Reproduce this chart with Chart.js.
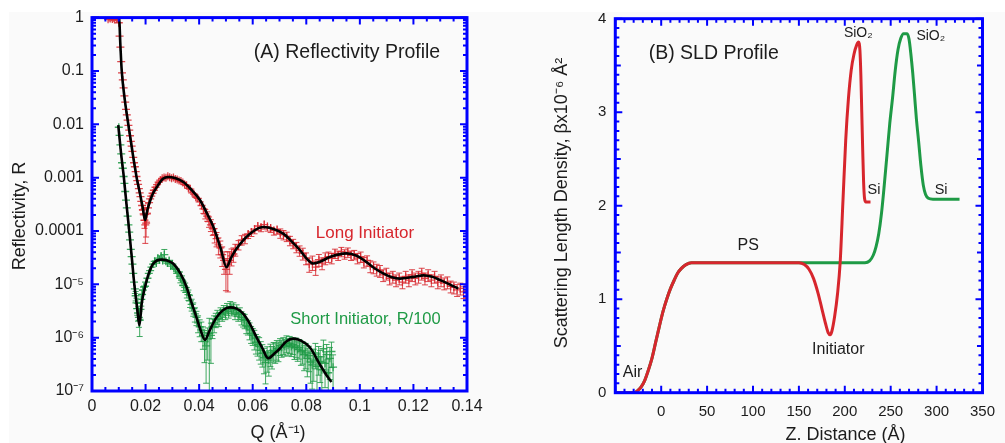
<!DOCTYPE html>
<html>
<head>
<meta charset="utf-8">
<title>Reflectivity and SLD profiles</title>
<script src="https://cdn.jsdelivr.net/npm/chart.js@4.4.0/dist/chart.umd.min.js"></script>
<style>
  html, body { margin: 0; padding: 0; background: #fff; }
  #sheet { position: absolute; left: 9px; top: 12px; width: 996px; height: 431px; background: #fafafa; }
  canvas { position: absolute; top: 0; }
  #reflCanvas { left: 0; }
  #sldCanvas { left: 500px; }
</style>
</head>
<body>
<div id="sheet"></div>
<canvas id="reflCanvas" width="500" height="443"></canvas>
<canvas id="sldCanvas" width="505" height="443"></canvas>
<script>
// ---------- (A) reflectivity: measured points ----------
const redQ = [
  0.0060, 0.0064, 0.0068, 0.0072, 0.0076, 0.0080, 0.0084, 0.0088, 0.0092, 0.0096,
  0.0100, 0.0103, 0.0106, 0.0109, 0.0112, 0.0115, 0.0118, 0.0121, 0.0124, 0.0127,
  0.0130, 0.0133, 0.0136, 0.0139, 0.0142, 0.0145, 0.0148, 0.0151, 0.0154, 0.0157,
  0.0160, 0.0163, 0.0166, 0.0169, 0.0172, 0.0175, 0.0178, 0.0181, 0.0184, 0.0187,
  0.0190, 0.0193, 0.0196, 0.0199, 0.0202, 0.0205, 0.0209, 0.0213, 0.0217, 0.0221,
  0.0226, 0.0231, 0.0237, 0.0243, 0.0249, 0.0255, 0.0262, 0.0269, 0.0276, 0.0283,
  0.0290, 0.0297, 0.0304, 0.0311, 0.0318, 0.0325, 0.0332, 0.0339, 0.0346, 0.0353,
  0.0360, 0.0367, 0.0374, 0.0381, 0.0388, 0.0395, 0.0402, 0.0409, 0.0416, 0.0423,
  0.0430, 0.0437, 0.0444, 0.0451, 0.0458, 0.0465, 0.0472, 0.0479, 0.0486, 0.0493,
  0.0500, 0.0507, 0.0514, 0.0521, 0.0528, 0.0535, 0.0547, 0.0559, 0.0571, 0.0583,
  0.0595, 0.0607, 0.0619, 0.0631, 0.0643, 0.0655, 0.0667, 0.0679, 0.0691, 0.0703,
  0.0715, 0.0727, 0.0739, 0.0751, 0.0763, 0.0775, 0.0787, 0.0799, 0.0811, 0.0823,
  0.0835, 0.0847, 0.0859, 0.0871, 0.0883, 0.0895, 0.0907, 0.0919, 0.0931, 0.0943,
  0.0955, 0.0967, 0.0979, 0.0991, 0.1003, 0.1015, 0.1027, 0.1039, 0.1051, 0.1063,
  0.1075, 0.1087, 0.1099, 0.1111, 0.1123, 0.1135, 0.1147, 0.1159, 0.1171, 0.1183,
  0.1195, 0.1207, 0.1219, 0.1231, 0.1243, 0.1255, 0.1267, 0.1279, 0.1291, 0.1303,
  0.1315, 0.1327, 0.1339, 0.1351, 0.1363, 0.1375, 0.1387, 0.1399
];
const redR = [
  0.93, 1.00, 0.96, 1.02, 0.94, 0.99, 0.92, 1.01, 0.95, 0.97,
  0.80, 0.45, 0.28, 0.15, 0.092, 0.068, 0.048, 0.034, 0.026, 0.019,
  0.015, 0.012, 0.0095, 0.0078, 0.0061, 0.0048, 0.0039, 0.0031, 0.0024, 0.0019,
  0.0016, 0.0013, 0.00105, 0.00088, 0.00075, 0.00062, 0.00052, 0.00044, 0.00036, 0.0003,
  0.00025, 0.00021, 0.00016, 0.00013, 0.00014, 0.00021, 0.00027, 0.00034, 0.0004, 0.00045,
  0.00051, 0.00058, 0.00066, 0.00074, 0.00082, 0.0009, 0.00097, 0.00101, 0.00099, 0.00106,
  0.00102, 0.00097, 0.00101, 0.00094, 0.00092, 0.00088, 0.00086, 0.00081, 0.00074, 0.00072,
  0.00063, 0.00061, 0.00052, 0.00049, 0.00043, 0.00041, 0.00035, 0.0003, 0.00026, 0.00021,
  0.00019, 0.00015, 0.00013, 0.00011, 8.5e-5, 7.2e-5, 5.5e-5, 4.8e-5, 3.6e-5, 2.8e-5,
  1.9e-5, 2.4e-5, 2.8e-5, 3.4e-5, 3.7e-5, 4.5e-5, 5.5e-5, 6.8e-5, 7.2e-5, 8.8e-5,
  9.6e-5, 1.08e-4, 1.24e-4, 1.18e-4, 1.32e-4, 1.21e-4, 1.14e-4, 1.02e-4, 1.06e-4, 9.1e-5,
  8.5e-5, 7.9e-5, 6.6e-5, 5.8e-5, 5.0e-5, 4.3e-5, 3.8e-5, 3.1e-5, 2.4e-5, 2.6e-5,
  2.1e-5, 2.9e-5, 2.5e-5, 3.1e-5, 3.3e-5, 3.1e-5, 3.8e-5, 3.5e-5, 4.1e-5, 3.7e-5,
  4.0e-5, 3.5e-5, 3.6e-5, 3.1e-5, 3.3e-5, 2.6e-5, 2.8e-5, 2.2e-5, 2.1e-5, 1.9e-5,
  1.8e-5, 1.5e-5, 1.6e-5, 1.3e-5, 1.4e-5, 1.2e-5, 1.3e-5, 1.1e-5, 1.4e-5, 1.2e-5,
  1.5e-5, 1.3e-5, 1.4e-5, 1.6e-5, 1.3e-5, 1.5e-5, 1.2e-5, 1.4e-5, 1.1e-5, 1.2e-5,
  1.05e-5, 1.1e-5, 9.2e-6, 8.8e-6, 7.9e-6, 8.4e-6, 7.2e-6, 7.5e-6
];
// relative error (dR/R) of each red point
const redErr = [
  0.04, 0.04, 0.04, 0.04, 0.04, 0.04, 0.04, 0.04, 0.04, 0.04,
  0.05, 0.05, 0.05, 0.05, 0.05, 0.05, 0.05, 0.06, 0.06, 0.06,
  0.06, 0.06, 0.06, 0.07, 0.07, 0.07, 0.07, 0.07, 0.08, 0.08,
  0.08, 0.08, 0.09, 0.09, 0.10, 0.10, 0.12, 0.12, 0.15, 0.18,
  0.20, 0.25, 0.30, 0.55, 0.45, 0.30, 0.20, 0.15, 0.12, 0.12,
  0.10, 0.10, 0.10, 0.10, 0.10, 0.10, 0.10, 0.10, 0.10, 0.10,
  0.10, 0.10, 0.10, 0.10, 0.10, 0.10, 0.10, 0.10, 0.12, 0.12,
  0.12, 0.12, 0.12, 0.15, 0.15, 0.15, 0.15, 0.15, 0.18, 0.20,
  0.20, 0.22, 0.25, 0.25, 0.30, 0.30, 0.35, 0.35, 0.40, 0.45,
  0.60, 0.70, 0.45, 0.35, 0.30, 0.25, 0.20, 0.20, 0.20, 0.18,
  0.18, 0.18, 0.18, 0.18, 0.18, 0.18, 0.18, 0.18, 0.18, 0.20,
  0.20, 0.20, 0.20, 0.20, 0.22, 0.22, 0.25, 0.25, 0.30, 0.30,
  0.30, 0.25, 0.25, 0.25, 0.22, 0.22, 0.20, 0.20, 0.20, 0.20,
  0.20, 0.20, 0.20, 0.22, 0.22, 0.22, 0.22, 0.25, 0.25, 0.25,
  0.25, 0.25, 0.25, 0.25, 0.25, 0.25, 0.25, 0.25, 0.25, 0.25,
  0.25, 0.25, 0.25, 0.25, 0.25, 0.25, 0.25, 0.25, 0.25, 0.25,
  0.25, 0.25, 0.25, 0.25, 0.25, 0.25, 0.25, 0.25
];

const greenQ = [
  0.0100, 0.0103, 0.0106, 0.0109, 0.0112, 0.0115, 0.0118, 0.0121, 0.0124, 0.0127,
  0.0130, 0.0133, 0.0136, 0.0139, 0.0142, 0.0145, 0.0148, 0.0151, 0.0154, 0.0157,
  0.0160, 0.0163, 0.0166, 0.0169, 0.0172, 0.0175, 0.0178, 0.0181, 0.0184, 0.0187,
  0.0190, 0.0194, 0.0198, 0.0202, 0.0207, 0.0212, 0.0217, 0.0222, 0.0228, 0.0234,
  0.0240, 0.0246, 0.0252, 0.0258, 0.0264, 0.0270, 0.0276, 0.0282, 0.0288, 0.0294,
  0.0300, 0.0306, 0.0312, 0.0318, 0.0324, 0.0330, 0.0336, 0.0342, 0.0348, 0.0354,
  0.0360, 0.0366, 0.0372, 0.0378, 0.0384, 0.0390, 0.0396, 0.0402, 0.0408, 0.0414,
  0.0420, 0.0426, 0.0432, 0.0438, 0.0444, 0.0450, 0.0456, 0.0462, 0.0468, 0.0474,
  0.0480, 0.0486, 0.0492, 0.0498, 0.0504, 0.0510, 0.0516, 0.0522, 0.0528, 0.0534,
  0.0540, 0.0546, 0.0552, 0.0558, 0.0564, 0.0570, 0.0576, 0.0582, 0.0588, 0.0594,
  0.0600, 0.0606, 0.0612, 0.0618, 0.0624, 0.0630, 0.0636, 0.0642, 0.0648, 0.0654,
  0.0660, 0.0666, 0.0672, 0.0678, 0.0684, 0.0690, 0.0696, 0.0702, 0.0708, 0.0714,
  0.0720, 0.0726, 0.0732, 0.0738, 0.0744, 0.0750, 0.0756, 0.0762, 0.0768, 0.0774,
  0.0780, 0.0786, 0.0792, 0.0798, 0.0804, 0.0810, 0.0816, 0.0822, 0.0828, 0.0834,
  0.0840, 0.0846, 0.0852, 0.0858, 0.0864, 0.0870, 0.0876, 0.0882, 0.0888, 0.0894,
  0.0900
];
// short initiator, already divided by 100
const greenR = [
  0.0088, 0.0062, 0.0041, 0.0028, 0.0019, 0.0015, 0.00105, 0.00078, 0.00055, 0.00038,
  0.00027, 0.00019, 0.00013, 9.5e-5, 6.8e-5, 4.5e-5, 3.3e-5, 2.4e-5, 1.6e-5, 1.1e-5,
  8.2e-6, 6.1e-6, 4.5e-6, 3.5e-6, 2.9e-6, 2.4e-6, 2.1e-6, 3.4e-6, 5.2e-6, 6.5e-6,
  7.8e-6, 8.9e-6, 9.2e-6, 1.1e-5, 1.3e-5, 1.6e-5, 1.8e-5, 2.1e-5, 2.4e-5, 2.7e-5,
  2.5e-5, 3.1e-5, 2.9e-5, 3.4e-5, 2.8e-5, 3.6e-5, 2.7e-5, 2.5e-5, 2.8e-5, 2.2e-5,
  2.4e-5, 2.0e-5, 1.9e-5, 1.6e-5, 1.7e-5, 1.3e-5, 1.2e-5, 9.5e-6, 8.8e-6, 7.1e-6,
  6.4e-6, 4.9e-6, 4.2e-6, 3.5e-6, 2.8e-6, 2.4e-6, 1.9e-6, 1.6e-6, 1.4e-6, 1.1e-6,
  8.5e-7, 7.0e-7, 9.5e-7, 1.2e-6, 1.1e-6, 1.6e-6, 1.9e-6, 2.2e-6, 2.5e-6, 2.3e-6,
  2.9e-6, 2.7e-6, 3.2e-6, 2.9e-6, 3.5e-6, 3.1e-6, 3.8e-6, 3.4e-6, 3.6e-6, 2.9e-6,
  3.3e-6, 2.7e-6, 2.9e-6, 2.4e-6, 2.2e-6, 2.1e-6, 1.7e-6, 1.6e-6, 1.4e-6, 1.2e-6,
  1.1e-6, 9.8e-7, 8.2e-7, 7.5e-7, 6.9e-7, 5.8e-7, 5.1e-7, 4.2e-7, 3.4e-7, 4.5e-7,
  3.8e-7, 5.2e-7, 4.7e-7, 5.8e-7, 5.5e-7, 6.3e-7, 5.9e-7, 7.1e-7, 6.6e-7, 7.4e-7,
  6.9e-7, 8.0e-7, 7.2e-7, 7.8e-7, 6.8e-7, 7.4e-7, 6.5e-7, 7.0e-7, 6.0e-7, 6.6e-7,
  5.5e-7, 5.8e-7, 4.8e-7, 5.2e-7, 4.1e-7, 4.6e-7, 3.5e-7, 3.1e-7, 3.8e-7, 5.2e-7,
  2.9e-7, 4.4e-7, 3.6e-7, 2.5e-7, 6.2e-7, 3.3e-7, 4.8e-7, 2.2e-7, 4.1e-7, 5.5e-7,
  2.8e-7
];
const greenErr = [
  0.08, 0.08, 0.08, 0.08, 0.08, 0.08, 0.08, 0.08, 0.08, 0.08,
  0.08, 0.08, 0.10, 0.10, 0.10, 0.12, 0.12, 0.12, 0.15, 0.15,
  0.18, 0.20, 0.22, 0.25, 0.30, 0.35, 0.50, 0.35, 0.25, 0.20,
  0.18, 0.15, 0.15, 0.15, 0.15, 0.15, 0.15, 0.15, 0.15, 0.15,
  0.15, 0.15, 0.15, 0.15, 0.15, 0.25, 0.15, 0.15, 0.15, 0.15,
  0.15, 0.15, 0.15, 0.15, 0.18, 0.18, 0.20, 0.20, 0.20, 0.22,
  0.22, 0.25, 0.25, 0.28, 0.30, 0.30, 0.35, 0.35, 0.40, 0.45,
  0.60, 0.80, 0.60, 0.92, 0.70, 0.40, 0.35, 0.30, 0.30, 0.30,
  0.25, 0.25, 0.25, 0.25, 0.25, 0.25, 0.25, 0.25, 0.25, 0.25,
  0.25, 0.25, 0.25, 0.28, 0.28, 0.30, 0.30, 0.30, 0.35, 0.35,
  0.35, 0.40, 0.40, 0.40, 0.45, 0.45, 0.45, 0.50, 0.60, 0.50,
  0.50, 0.45, 0.45, 0.40, 0.40, 0.40, 0.40, 0.35, 0.35, 0.35,
  0.35, 0.35, 0.35, 0.35, 0.35, 0.35, 0.40, 0.40, 0.40, 0.40,
  0.45, 0.45, 0.50, 0.50, 0.55, 0.50, 0.60, 0.65, 0.60, 0.50,
  0.70, 0.55, 0.60, 0.75, 0.45, 0.65, 0.55, 0.80, 0.60, 0.50,
  0.70
];

// ---------- (A) model fits ----------
const redFitQ = [
  0.0063, 0.0101, 0.0106, 0.0111, 0.0122, 0.01355, 0.0150, 0.01667, 0.0180, 0.0190,
  0.0198, 0.0207, 0.0218, 0.0229, 0.0245, 0.0265, 0.0285, 0.0310, 0.0341, 0.0370,
  0.0403, 0.0430, 0.0453, 0.0480, 0.0502, 0.0520, 0.0540, 0.0590, 0.0639, 0.0680,
  0.0714, 0.0745, 0.0776, 0.0805, 0.0826, 0.0855, 0.0888, 0.0950, 0.0990, 0.1025,
  0.1055, 0.1087, 0.1120, 0.1150, 0.1200, 0.1237, 0.1270, 0.1300, 0.1335, 0.1367
];
const redFitR = [
  1, 1, 0.3, 0.1, 0.03, 0.01, 0.0033, 0.001, 0.00048, 0.00026,
  0.00016, 0.00025, 0.00038, 0.00052, 0.0007, 0.00095, 0.00103, 0.00098, 0.00083, 0.0006,
  0.00038, 0.00021, 0.00012, 4.8e-5, 2.1e-5, 3.2e-5, 4.7e-5, 8.9e-5, 1.19e-4, 1.08e-4,
  8.9e-5, 6.4e-5, 4.4e-5, 2.9e-5, 2.45e-5, 2.7e-5, 3.25e-5, 3.8e-5, 3.4e-5, 2.6e-5,
  2.0e-5, 1.6e-5, 1.35e-5, 1.28e-5, 1.38e-5, 1.47e-5, 1.38e-5, 1.2e-5, 1.0e-5, 8.3e-6
];
const greenFitQ = [
  0.0098, 0.0108, 0.0119, 0.0129, 0.0139, 0.0149, 0.0158, 0.0168, 0.0177, 0.0186,
  0.0198, 0.0212, 0.0229, 0.0260, 0.0280, 0.0303, 0.0330, 0.0353, 0.0370, 0.0390,
  0.0405, 0.0422, 0.0440, 0.0465, 0.0490, 0.0515, 0.0540, 0.0565, 0.0590, 0.0615,
  0.0635, 0.0658, 0.0680, 0.0701, 0.0725, 0.0751, 0.0780, 0.0813, 0.0850, 0.0875,
  0.0894
];
const greenFitR = [
  0.0096, 0.003, 0.001, 0.00031, 0.0001, 3.0e-5, 1.0e-5, 3.8e-6, 1.7e-6, 4.5e-6,
  8.9e-6, 1.6e-5, 2.45e-5, 2.9e-5, 2.8e-5, 2.45e-5, 1.6e-5, 8.9e-6, 4.8e-6, 2.4e-6,
  1.4e-6, 9.1e-7, 1.4e-6, 2.4e-6, 3.3e-6, 3.7e-6, 3.5e-6, 2.8e-6, 1.8e-6, 1.0e-6,
  6.5e-7, 4.1e-7, 5.0e-7, 6.2e-7, 8.5e-7, 9.6e-7, 8.8e-7, 6.6e-7, 3.2e-7, 2.0e-7,
  1.47e-7
];

const qTicks = [0, 0.02, 0.04, 0.06, 0.08, 0.1, 0.12, 0.14];
const qTickLabels = ['0', '0.02', '0.04', '0.06', '0.08', '0.1', '0.12', '0.14'];
const rTicks = [1e-7, 1e-6, 1e-5, 1e-4, 1e-3, 1e-2, 1e-1, 1];
const rTickLabels = ['10\u207B\u2077', '10\u207B\u2076', '10\u207B\u2075', '0.0001', '0.001', '0.01', '0.1', '1'];

// ---------- (B) scattering length density ----------
const zLong = [
  -50, -35, -30, -26, -22, -18, -14, -10, -6, -2,
  2, 6, 10, 14, 18, 22, 27, 33, 40, 60,
  100, 150, 156, 161, 166, 171, 175, 179, 182, 184,
  186, 189, 192, 195, 198, 201, 204, 207, 210, 213,
  215, 216.5, 217.5, 218.5, 219.5, 220.5, 221.5, 223, 228
];
const sldLong = [
  0, 0, 0, 0.02, 0.06, 0.13, 0.24, 0.37, 0.54, 0.71,
  0.87, 1.0, 1.11, 1.2, 1.28, 1.33, 1.37, 1.39, 1.39, 1.39,
  1.39, 1.39, 1.37, 1.32, 1.22, 1.06, 0.9, 0.74, 0.64, 0.62,
  0.66, 0.82, 1.05, 1.4, 2.05, 2.7, 3.15, 3.45, 3.62, 3.72,
  3.75, 3.66, 3.4, 3.0, 2.6, 2.25, 2.08, 2.04, 2.04
];
const zShort = [
  -50, -35, -30, -26, -22, -18, -14, -10, -6, -2,
  2, 6, 10, 14, 18, 22, 27, 33, 40, 60,
  100, 150, 200, 222, 227, 231, 234, 237, 240, 243,
  246, 249, 252, 255, 258, 261, 264, 268, 270, 272,
  274, 276, 278, 280.5, 283, 285.5, 288, 291, 296, 325
];
const sldShort = [
  0, 0, 0, 0.02, 0.06, 0.13, 0.24, 0.37, 0.54, 0.71,
  0.87, 1.0, 1.11, 1.2, 1.28, 1.33, 1.37, 1.39, 1.39, 1.39,
  1.39, 1.39, 1.39, 1.39, 1.41, 1.47, 1.56, 1.7, 1.92, 2.22,
  2.55, 2.88, 3.15, 3.45, 3.67, 3.79, 3.84, 3.84, 3.78, 3.62,
  3.42, 3.18, 2.93, 2.68, 2.42, 2.22, 2.12, 2.08, 2.07, 2.07
];
const zTicks = [0, 50, 100, 150, 200, 250, 300, 350];
const sldTicks = [0, 1, 2, 3, 4];

const RED = '#d7262d';
const GREEN = '#1e9a45';
const INK = '#1c1c1c';
const FRAME = '#0000ff';
const FONT = '"Liberation Sans", Arial, Helvetica, sans-serif';

Chart.defaults.font.family = FONT;
Chart.defaults.color = INK;

const pts = (xs, ys) => xs.map((x, i) => ({ x: x, y: ys[i] }));

function linMarks(from, step, count, every, midEvery) {
  const out = [];
  for (let i = 0; i <= count; i++) {
    let len = 4;
    if (i % every === 0) len = 7;
    else if (midEvery && i % midEvery === 0) len = 5.5;
    out.push({ v: from + i * step, len: len });
  }
  return out;
}
function logMarks(minExp, maxExp) {
  const out = [];
  for (let e = minExp; e <= maxExp; e++) {
    out.push({ v: Math.pow(10, e), len: 7 });
    if (e < maxExp) for (let k = 2; k <= 9; k++) out.push({ v: k * Math.pow(10, e), len: 4 });
  }
  return out;
}

// vertical error bars, drawn right after their own dataset
const errorBars = {
  id: 'errorBars',
  afterDatasetDraw(chart, { index, meta }) {
    const ds = chart.data.datasets[index];
    if (!ds.errors) return;
    const { ctx, chartArea: a } = chart;
    const ys = chart.scales.y;
    ctx.save();
    ctx.beginPath();
    ctx.rect(a.left, a.top, a.right - a.left, a.bottom - a.top);
    ctx.clip();
    ctx.strokeStyle = ds.borderColor;
    ctx.lineWidth = 1;
    ctx.beginPath();
    meta.data.forEach((p, i) => {
      const r = ds.data[i].y, e = ds.errors[i];
      const yHi = ys.getPixelForValue(r * (1 + e));
      const lo = r * (1 - e);
      const yLo = lo > 0 ? ys.getPixelForValue(lo) : a.bottom + 4;
      ctx.moveTo(p.x, yHi); ctx.lineTo(p.x, yLo);
      if (p.y - yHi > 4) { ctx.moveTo(p.x - 3, yHi); ctx.lineTo(p.x + 3, yHi); }
      if (yLo - p.y > 4) { ctx.moveTo(p.x - 3, yLo); ctx.lineTo(p.x + 3, yLo); }
    });
    ctx.stroke();
    ctx.restore();
  }
};

// inward ticks on all four sides, then the texts
function decorations(xMarks, yMarks, items) {
  return {
    id: 'decorations',
    afterDraw(chart) {
      const ctx = chart.ctx;
      const area = chart.chartArea;
      const xs = chart.scales.x, ys = chart.scales.y;

      ctx.save();
      ctx.strokeStyle = FRAME;
      ctx.lineWidth = 2;
      ctx.beginPath();
      for (const m of xMarks) {
        const px = xs.getPixelForValue(m.v);
        ctx.moveTo(px, area.bottom); ctx.lineTo(px, area.bottom - m.len);
        ctx.moveTo(px, area.top); ctx.lineTo(px, area.top + m.len);
      }
      for (const m of yMarks) {
        const py = ys.getPixelForValue(m.v);
        ctx.moveTo(area.left, py); ctx.lineTo(area.left + m.len, py);
        ctx.moveTo(area.right, py); ctx.lineTo(area.right - m.len, py);
      }
      ctx.stroke();
      ctx.lineWidth = 3;
      ctx.strokeRect(area.left, area.top, area.right - area.left, area.bottom - area.top);
      ctx.restore();

      for (const t of items) {
        const x = t.px !== undefined ? t.px : xs.getPixelForValue(t.x);
        const y = t.py !== undefined ? t.py : ys.getPixelForValue(t.y);
        ctx.save();
        ctx.font = t.size + 'px ' + FONT;
        ctx.fillStyle = t.color || INK;
        ctx.textAlign = 'center';
        ctx.textBaseline = 'middle';
        ctx.translate(x, y);
        if (t.rotate) ctx.rotate(-Math.PI / 2);
        ctx.fillText(t.text, 0, 0);
        ctx.restore();
      }
    }
  };
}

// ---------- chart A ----------
new Chart(document.getElementById('reflCanvas'), {
  type: 'scatter',
  data: {
    datasets: [
      { label: 'Long Initiator fit', data: pts(redFitQ, redFitR), showLine: true,
        borderColor: '#000', borderWidth: 2.6, pointRadius: 0, cubicInterpolationMode: 'monotone' },
      { label: 'Short Initiator fit', data: pts(greenFitQ, greenFitR), showLine: true,
        borderColor: '#000', borderWidth: 2.6, pointRadius: 0, cubicInterpolationMode: 'monotone' },
      { label: 'Long Initiator', data: pts(redQ, redR), errors: redErr,
        pointStyle: 'cross', pointRadius: 4, borderWidth: 1.3,
        borderColor: 'rgba(215,38,45,0.85)', backgroundColor: 'rgba(215,38,45,0.85)' },
      { label: 'Short Initiator, R/100', data: pts(greenQ, greenR), errors: greenErr,
        pointStyle: 'cross', pointRadius: 4, borderWidth: 1.3,
        borderColor: 'rgba(30,154,69,0.85)', backgroundColor: 'rgba(30,154,69,0.85)' }
    ]
  },
  options: {
    responsive: false,
    animation: false,
    devicePixelRatio: 1,
    events: [],
    layout: { padding: { top: 17.5, right: 33, bottom: 0, left: 0 } },
    scales: {
      x: {
        type: 'linear', min: 0, max: 0.14,
        afterBuildTicks: s => { s.ticks = qTicks.map(v => ({ value: v })); },
        afterFit: s => { s.height = 52; },
        ticks: { callback: (v, i) => qTickLabels[i], font: { size: 16 }, padding: 6,
                 maxRotation: 0, autoSkip: false, color: INK },
        grid: { display: false, drawTicks: false },
        border: { display: false }
      },
      y: {
        type: 'logarithmic', min: 1e-7, max: 1,
        afterBuildTicks: s => { s.ticks = rTicks.map(v => ({ value: v })); },
        afterFit: s => { s.width = 92; },
        ticks: { callback: (v, i) => rTickLabels[i], font: { size: 16 }, padding: 8,
                 autoSkip: false, color: INK },
        grid: { display: false, drawTicks: false },
        border: { display: false }
      }
    },
    plugins: { legend: { display: false }, tooltip: { enabled: false } }
  },
  plugins: [
    errorBars,
    decorations(linMarks(0, 0.005, 28, 4), logMarks(-7, 0), [
      { text: '(A) Reflectivity Profile', x: 0.0952, y: 0.216, size: 19.5 },
      { text: 'Long Initiator', x: 0.1019, y: 9.1e-5, size: 17, color: RED },
      { text: 'Short Initiator, R/100', x: 0.1021, y: 2.2e-6, size: 16.5, color: GREEN },
      { text: 'Reflectivity, R', px: 20, py: 216, size: 18, rotate: true },
      { text: 'Q (\u00C5\u207B\u00B9)', px: 278, py: 433, size: 18 }
    ])
  ]
});

// ---------- chart B ----------
new Chart(document.getElementById('sldCanvas'), {
  type: 'scatter',
  data: {
    datasets: [
      { label: 'Long Initiator', data: pts(zLong, sldLong), showLine: true,
        borderColor: RED, borderWidth: 3, pointRadius: 0, cubicInterpolationMode: 'monotone' },
      { label: 'Short Initiator', data: pts(zShort, sldShort), showLine: true,
        borderColor: GREEN, borderWidth: 3, pointRadius: 0, cubicInterpolationMode: 'monotone' }
    ]
  },
  options: {
    responsive: false,
    animation: false,
    devicePixelRatio: 1,
    events: [],
    layout: { padding: { top: 18.7, right: 15, bottom: 0, left: 0 } },
    scales: {
      x: {
        type: 'linear', min: -50, max: 350,
        afterBuildTicks: s => { s.ticks = zTicks.map(v => ({ value: v })); },
        afterFit: s => { s.height = 50.3; },
        ticks: { font: { size: 15 }, padding: 10, maxRotation: 0, autoSkip: false, color: INK },
        grid: { display: false, drawTicks: false },
        border: { display: false }
      },
      y: {
        type: 'linear', min: 0, max: 4,
        afterBuildTicks: s => { s.ticks = sldTicks.map(v => ({ value: v })); },
        afterFit: s => { s.width = 115.3; },
        ticks: { font: { size: 15 }, padding: 9, color: INK },
        grid: { display: false, drawTicks: false },
        border: { display: false }
      }
    },
    plugins: { legend: { display: false }, tooltip: { enabled: false } }
  },
  plugins: [
    decorations(linMarks(-50, 10, 40, 5), linMarks(0, 0.1, 40, 10, 5), [
      { text: '(B) SLD Profile', x: 57.2, y: 3.63, size: 19.5 },
      { text: 'PS', x: 94.7, y: 1.57, size: 16 },
      { text: 'Initiator', x: 192.9, y: 0.457, size: 16 },
      { text: 'Air', x: -31.1, y: 0.21, size: 16 },
      { text: 'SiO\u2082', x: 214.7, y: 3.85, size: 14 },
      { text: 'SiO\u2082', x: 293.7, y: 3.81, size: 14 },
      { text: 'Si', x: 231.8, y: 2.17, size: 14.5 },
      { text: 'Si', x: 304.9, y: 2.17, size: 14.5 },
      { text: 'Scattering Length Density, \u03B2x10\u207B\u2076 \u00C5\u00B2', px: 61.7, py: 203, size: 18, rotate: true },
      { text: 'Z. Distance (\u00C5)', px: 345.5, py: 435, size: 18 }
    ])
  ]
});
</script>
</body>
</html>
